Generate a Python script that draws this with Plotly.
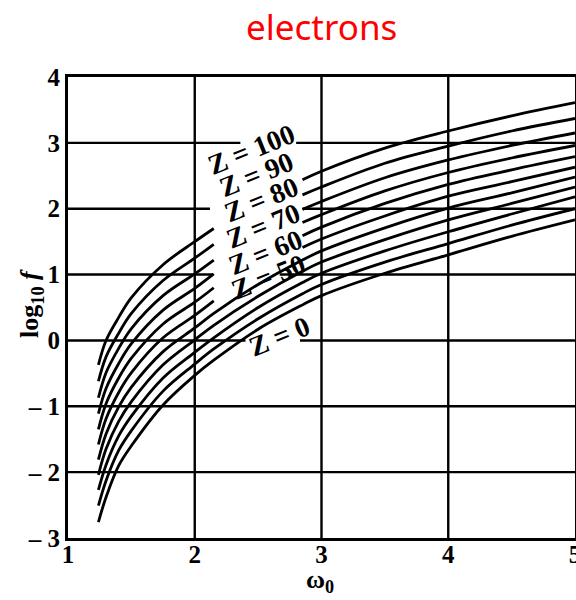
import plotly.graph_objects as go

# ---- data ----
W0 = [1.24, 1.30, 1.40, 1.50, 1.75, 2.00, 2.15, 2.50, 2.85, 3.00, 3.50, 4.00, 4.50, 5.00]

# None = curve interrupted where its label sits
LOGF_Z100 = [-0.37, 0.00, 0.35, 0.65, 1.15, 1.50, 1.70, None, 2.44, 2.57, 2.92, 3.18, 3.41, 3.61]
LOGF_Z90 = [-0.62, -0.25, 0.11, 0.41, 0.91, 1.25, 1.46, None, 2.21, 2.33, 2.69, 2.95, 3.18, 3.37]
LOGF_Z80 = [-0.87, -0.49, -0.12, 0.18, 0.68, 1.01, 1.22, None, 1.99, 2.11, 2.47, 2.74, 2.96, 3.15]
LOGF_Z70 = [-1.11, -0.73, -0.35, -0.05, 0.46, 0.79, 1.01, None, 1.79, 1.91, 2.27, 2.55, 2.77, 2.96]
LOGF_Z60 = [-1.35, -0.96, -0.57, -0.27, 0.25, 0.58, 0.80, None, 1.59, 1.72, 2.08, 2.37, 2.59, 2.79]
LOGF_Z50 = [-1.58, -1.19, -0.79, -0.49, 0.04, 0.38, 0.60, None, 1.41, 1.54, 1.89, 2.19, 2.41, 2.63]
LOGF_Z40 = [-1.81, -1.42, -1.01, -0.71, -0.17, 0.19, 0.41, 0.85, 1.22, 1.36, 1.71, 2.01, 2.24, 2.48]
LOGF_Z30 = [-2.04, -1.65, -1.23, -0.93, -0.37, 0.01, 0.23, 0.67, 1.05, 1.19, 1.53, 1.83, 2.08, 2.33]
LOGF_Z20 = [-2.27, -1.89, -1.45, -1.15, -0.57, -0.18, 0.04, 0.50, 0.88, 1.02, 1.36, 1.65, 1.92, 2.18]
LOGF_Z10 = [-2.51, -2.13, -1.67, -1.37, -0.77, -0.36, -0.13, 0.33, 0.71, 0.85, 1.19, 1.47, 1.75, 2.00]
LOGF_Z0 = [-2.76, -2.38, -1.90, -1.60, -0.98, -0.53, -0.30, 0.17, 0.54, 0.68, 1.02, 1.30, 1.58, 1.83]

CURVES = [LOGF_Z100, LOGF_Z90, LOGF_Z80, LOGF_Z70, LOGF_Z60, LOGF_Z50,
          LOGF_Z40, LOGF_Z30, LOGF_Z20, LOGF_Z10, LOGF_Z0]

LABEL_TEXT = ["Z = 100", "Z = 90", "Z = 80", "Z = 70", "Z = 60", "Z = 50", "Z = 0"]
LABEL_X = [2.445, 2.485, 2.525, 2.545, 2.555, 2.585, 2.665]
LABEL_Y = [2.90, 2.52, 2.14, 1.74, 1.34, 0.97, 0.06]

X_TICKS = [1, 2, 3, 4, 5]
Y_TICKS = [-3, -2, -1, 0, 1, 2, 3, 4]
Y_TICK_TEXT = ["\u2013 3", "\u2013 2", "\u2013 1", "0", "1", "2", "3", "4"]

# horizontal grid lines and the gaps left in them for the labels
H_GRID = [-2, -1, 0, 1, 2, 3]
H_GRID_GAPS = {0: (2.40, 2.83), 1: (2.14, 2.67), 2: (2.12, 2.85), 3: (2.36, 2.80)}
V_GRID = [2, 3, 4]

fig = go.Figure()
for ys in CURVES:
    fig.add_trace(go.Scatter(
        x=W0, y=ys, mode="lines",
        line=dict(color="black", width=2.8, shape="spline", smoothing=1.0),
        connectgaps=False, showlegend=False, hoverinfo="skip"))

shapes = []
grid_line = dict(color="black", width=2.4)
for y in H_GRID:
    if y in H_GRID_GAPS:
        a, b = H_GRID_GAPS[y]
        segs = [(1, a), (b, 5)]
    else:
        segs = [(1, 5)]
    for x0, x1 in segs:
        shapes.append(dict(type="line", xref="x", yref="y", x0=x0, x1=x1, y0=y, y1=y,
                           line=grid_line, layer="below"))
for x in V_GRID:
    shapes.append(dict(type="line", xref="x", yref="y", x0=x, x1=x, y0=-3, y1=4,
                       line=grid_line, layer="below"))

label_font = dict(family="Liberation Serif", size=28, color="black", weight="bold")
annotations = []
for t, lx, ly in zip(LABEL_TEXT, LABEL_X, LABEL_Y):
    annotations.append(dict(x=lx, y=ly, xref="x", yref="y", text=t, showarrow=False,
                            textangle=-22, font=label_font))
annotations.append(dict(x=0.5, y=1.11, xref="paper", yref="paper", text="electrons",
                        showarrow=False, xanchor="center", yanchor="middle",
                        font=dict(family="Noto Sans", size=35, color="#ff0000")))
# axis titles
annotations.append(dict(x=0.497, y=-0.093, xref="paper", yref="paper",
                        text="\u03c9<sub>0</sub>", showarrow=False,
                        xanchor="center", yanchor="middle",
                        font=dict(family="Liberation Serif", size=26, color="black",
                                  weight="bold")))
annotations.append(dict(x=-0.073, y=0.51, xref="paper", yref="paper",
                        text="log<sub>10</sub> <i>f</i>", showarrow=False, textangle=-90,
                        xanchor="center", yanchor="middle",
                        font=dict(family="Liberation Serif", size=26, color="black",
                                  weight="bold")))

axis_font = dict(family="Liberation Serif", size=25, color="black", weight="bold")
fig.update_layout(
    width=576, height=600,
    margin=dict(l=68, r=1, t=77, b=62),
    paper_bgcolor="white", plot_bgcolor="white",
    shapes=shapes, annotations=annotations,
    xaxis=dict(range=[1, 5], tickvals=X_TICKS, ticktext=[str(v) for v in X_TICKS],
               showgrid=False, zeroline=False, showline=True, mirror=True,
               linecolor="black", linewidth=3, ticks="", tickfont=axis_font,
               ticklabelstandoff=-8, ticklabeloverflow="allow",
               automargin=False),
    yaxis=dict(range=[-3, 4], tickvals=Y_TICKS, ticktext=Y_TICK_TEXT,
               showgrid=False, zeroline=False, showline=True, mirror=True,
               linecolor="black", linewidth=3, ticks="", tickfont=axis_font,
               ticklabeloverflow="allow", automargin=False),
)

fig.write_html("out.html", config={"displayModeBar": False},
               post_script="document.body.style.margin='0';document.body.style.overflow='hidden';")
